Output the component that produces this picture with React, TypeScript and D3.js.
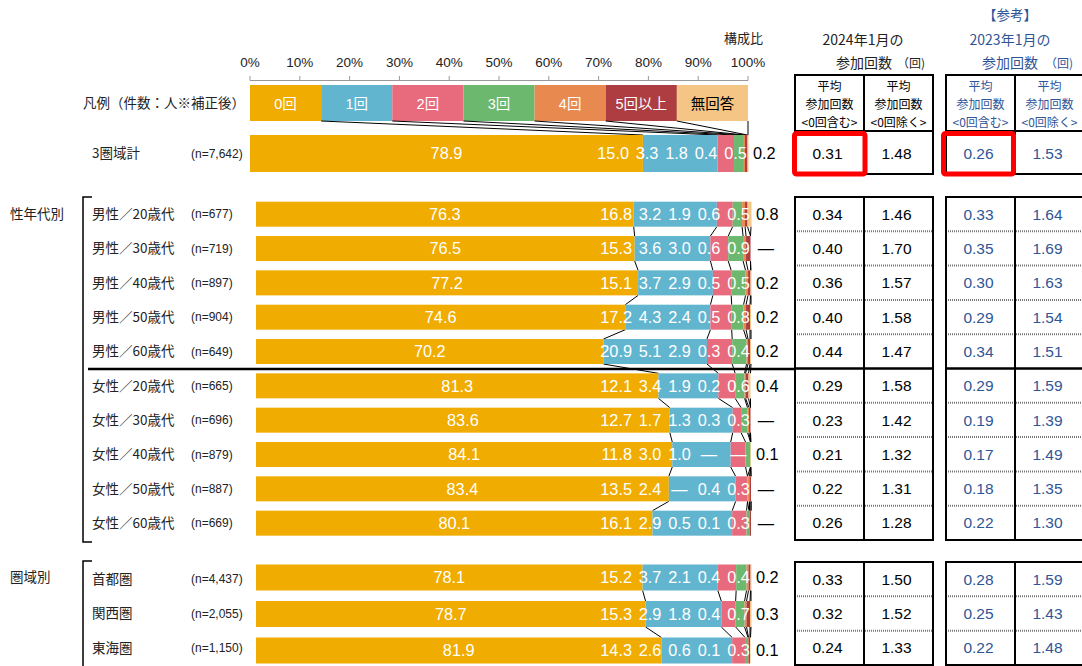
import React from 'react';
import * as d3 from 'd3';

// ---------- data ----------
const categories = [
  '3圏域計',
  '男性／20歳代', '男性／30歳代', '男性／40歳代', '男性／50歳代', '男性／60歳代',
  '女性／20歳代', '女性／30歳代', '女性／40歳代', '女性／50歳代', '女性／60歳代',
  '首都圏', '関西圏', '東海圏',
];
const sampleSizes = [
  '(n=7,642)',
  '(n=677)', '(n=719)', '(n=897)', '(n=904)', '(n=649)',
  '(n=665)', '(n=696)', '(n=879)', '(n=887)', '(n=669)',
  '(n=4,437)', '(n=2,055)', '(n=1,150)',
];
const seriesNames = ['0回', '1回', '2回', '3回', '4回', '5回以上', '無回答'];
const seriesColors = ['#F0AC00', '#62B5CF', '#E86B7D', '#6CB86E', '#E88A50', '#AE3D41', '#F5C586'];

const zeroTimes = [78.9, 76.3, 76.5, 77.2, 74.6, 70.2, 81.3, 83.6, 84.1, 83.4, 80.1, 78.1, 78.7, 81.9];
const oneTime = [15.0, 16.8, 15.3, 15.1, 17.2, 20.9, 12.1, 12.7, 11.8, 13.5, 16.1, 15.2, 15.3, 14.3];
const twoTimes = [3.3, 3.2, 3.6, 3.7, 4.3, 5.1, 3.4, 1.7, 3.0, 2.4, 2.9, 3.7, 2.9, 2.6];
const threeTimes = [1.8, 1.9, 3.0, 2.9, 2.4, 2.9, 1.9, 1.3, 1.0, null, 0.5, 2.1, 1.8, 0.6];
const fourTimes = [0.4, 0.6, 0.6, 0.5, 0.5, 0.3, 0.2, 0.3, null, 0.4, 0.1, 0.4, 0.4, 0.1];
const fivePlus = [0.5, 0.5, 0.9, 0.5, 0.8, 0.4, 0.6, 0.3, null, 0.3, 0.3, 0.4, 0.7, 0.3];
const noAnswer = [0.2, 0.8, null, 0.2, 0.2, 0.2, 0.4, null, 0.1, null, null, 0.2, 0.3, 0.1];
const seriesValues: (number | null)[][] = [zeroTimes, oneTime, twoTimes, threeTimes, fourTimes, fivePlus, noAnswer];

const axisTicks = [0, 10, 20, 30, 40, 50, 60, 70, 80, 90, 100];

const avgIncl2024 = [0.31, 0.34, 0.40, 0.36, 0.40, 0.44, 0.29, 0.23, 0.21, 0.22, 0.26, 0.33, 0.32, 0.24];
const avgExcl2024 = [1.48, 1.46, 1.70, 1.57, 1.58, 1.47, 1.58, 1.42, 1.32, 1.31, 1.28, 1.50, 1.52, 1.33];
const avgIncl2023 = [0.26, 0.33, 0.35, 0.30, 0.29, 0.34, 0.29, 0.19, 0.17, 0.18, 0.22, 0.28, 0.25, 0.22];
const avgExcl2023 = [1.53, 1.64, 1.69, 1.63, 1.54, 1.51, 1.59, 1.39, 1.49, 1.35, 1.30, 1.59, 1.43, 1.48];

// ---------- styles ----------
const JP = "'Noto Sans CJK JP', 'Noto Sans', sans-serif";
const NUM = "'Liberation Sans', Arial, 'Noto Sans CJK JP', sans-serif";
const BLUE = '#2F5597';
const TEXT = '#222';

const W = 1082;
const H = 666;
const STEP = 34.33;

const legendScale = d3.scaleLinear().domain([0, 100]).range([250, 748]);
const barScale = d3.scaleLinear().domain([0, 100]).range([256, 751]);

type Geom = { barTop: number; barH: number; rowTop: number; rowH: number; scale: d3.ScaleLinear<number, number> };
function rowGeom(i: number): Geom {
  if (i === 0) return { barTop: 135, barH: 37, rowTop: 131, rowH: 43, scale: legendScale };
  if (i <= 10) {
    const k = i - 1;
    const rowTop = 197 + k * STEP;
    return { barTop: rowTop + 4.7, barH: 25, rowTop, rowH: STEP, scale: barScale };
  }
  const k = i - 11;
  return { barTop: 564.5 + k * 36.5, barH: 26, rowTop: 562 + k * STEP, rowH: STEP, scale: barScale };
}

let ctx: CanvasRenderingContext2D | null = null;
function textWidth(s: string, font: string) {
  if (!ctx && typeof document !== 'undefined') ctx = document.createElement('canvas').getContext('2d');
  if (ctx) { ctx.font = font; return ctx.measureText(s).width; }
  return s.length * 8.6;
}

const fmt = (v: number | null) => (v == null ? '—' : v.toFixed(1));
const LABEL_FS = 16.3;
const LABEL_FONT = `${LABEL_FS}px 'Liberation Sans'`;

function Bar({ i }: { i: number }) {
  const g = rowGeom(i);
  const vals = seriesValues.map((s) => s[i] ?? 0);
  const cum = [0, ...d3.cumsum(vals)];
  const cy = g.barTop + g.barH / 2;
  const base = cy + LABEL_FS * 0.36;
  const end = g.scale(100);
  // label placement: 0回 centered, 1回..5回以上 packed from right end
  const labelX: number[] = new Array(7).fill(0);
  labelX[0] = (g.scale(cum[0]) + g.scale(cum[1])) / 2;
  let right = end - 1;
  for (let k = 5; k >= 1; k--) {
    const w = Math.max(textWidth(fmt(seriesValues[k][i]), LABEL_FONT), 23);
    const center = (g.scale(cum[k]) + g.scale(cum[k + 1])) / 2;
    const x = Math.min(center, right - w / 2);
    labelX[k] = x;
    right = x - w / 2 - 6.5;
  }
  const na = seriesValues[6][i];
  return (
    <g>
      {vals.map((v, k) => (
        <rect key={k} x={g.scale(cum[k])} y={g.barTop} width={Math.max(0, g.scale(cum[k + 1]) - g.scale(cum[k]))}
          height={g.barH} fill={seriesColors[k]} />
      ))}
      {[0, 1, 2, 3, 4, 5].map((k) => (
        <text key={k} x={labelX[k]} y={base} textAnchor="middle" fontFamily={NUM} fontSize={LABEL_FS} fill="#fff">
          {fmt(seriesValues[k][i])}
        </text>
      ))}
      <text x={na == null ? end + 15 : end + 5} y={base} textAnchor={na == null ? 'middle' : 'start'}
        fontFamily={NUM} fontSize={LABEL_FS} fill="#000">{fmt(na)}</text>
    </g>
  );
}

function seriesLines(a: number, b: number) {
  const ga = rowGeom(a), gb = rowGeom(b);
  const ca = d3.cumsum(seriesValues.map((s) => s[a] ?? 0));
  const cb = d3.cumsum(seriesValues.map((s) => s[b] ?? 0));
  return seriesNames.map((_, k) => (
    <line key={`${a}-${k}`} x1={ga.scale(Math.min(ca[k], 100))} y1={ga.barTop + ga.barH}
      x2={gb.scale(Math.min(cb[k], 100))} y2={gb.barTop} stroke="#000" strokeWidth={1} />
  ));
}

function Table({ x0, color, rows, top, bottom, solidAfter, colA, colB }:
  { x0: number; color: string; rows: number[]; top: number; bottom: number; solidAfter?: number; colA: number[]; colB: number[] }) {
  const xm = x0 + 69, x1 = x0 + 138;
  const n = rows.length;
  const step = (bottom - top) / n;
  return (
    <g>
      {rows.map((r, j) => {
        const cy = top + step * j + step / 2;
        return (
          <g key={r}>
            <text x={(x0 + xm) / 2 - 2} y={cy + 5.6} textAnchor="middle" fontFamily={NUM} fontSize={15.5} fill={color}>{colA[r].toFixed(2)}</text>
            <text x={(xm + x1) / 2 - 2} y={cy + 5.6} textAnchor="middle" fontFamily={NUM} fontSize={15.5} fill={color}>{colB[r].toFixed(2)}</text>
            {j > 0 && (solidAfter === j
              ? <line x1={x0} x2={x1} y1={top + step * j} y2={top + step * j} stroke="#000" strokeWidth={2.5} />
              : <line x1={x0} x2={x1} y1={top + step * j} y2={top + step * j} stroke="#777" strokeWidth={2} strokeDasharray="1 1" />)}
          </g>
        );
      })}
      <line x1={xm} x2={xm} y1={top} y2={bottom} stroke="#000" strokeWidth={2} />
      <rect x={x0} y={top} width={138} height={bottom - top} fill="none" stroke="#000" strokeWidth={2} />
    </g>
  );
}

function HeaderTable({ x0, color, i }: { x0: number; color: string; i: number }) {
  const xm = x0 + 69, x1 = x0 + 138;
  const lines = [['平均', '参加回数', '<0回含む>'], ['平均', '参加回数', '<0回除く>']];
  return (
    <g>
      {lines.map((ls, c) => ls.map((t, j) => (
        <text key={`${c}-${j}`} x={c === 0 ? (x0 + xm) / 2 : (xm + x1) / 2} y={90.5 + j * 18} textAnchor="middle"
          fontFamily={JP} fontSize={12} fill={color}>{t}</text>
      )))}
      <text x={(x0 + xm) / 2 - 2} y={159} textAnchor="middle" fontFamily={NUM} fontSize={15.5} fill={color}>
        {(color === BLUE ? avgIncl2023 : avgIncl2024)[i].toFixed(2)}</text>
      <text x={(xm + x1) / 2 - 2} y={159} textAnchor="middle" fontFamily={NUM} fontSize={15.5} fill={color}>
        {(color === BLUE ? avgExcl2023 : avgExcl2024)[i].toFixed(2)}</text>
      <line x1={x0} x2={x1} y1={131} y2={131} stroke="#000" strokeWidth={2} />
      <line x1={xm} x2={xm} y1={75} y2={174} stroke="#000" strokeWidth={2} />
      <rect x={x0} y={75} width={138} height={99} fill="none" stroke="#000" strokeWidth={2} />
    </g>
  );
}

export default function App() {
  const group1 = d3.range(1, 11);
  const group2 = d3.range(11, 14);
  return (
    <svg width={W} height={H} style={{ position: 'absolute', left: 0, top: 0, background: '#fff' }}>
      {/* axis */}
      <text x={763} y={43} textAnchor="end" fontFamily={JP} fontSize={13} fill={TEXT}>構成比</text>
      {axisTicks.map((t) => (
        <g key={t}>
          <text x={legendScale(t)} y={67} textAnchor="middle" fontFamily={NUM} fontSize={13.5} fill={TEXT}>{t}%</text>
          <line x1={legendScale(t)} x2={legendScale(t)} y1={76} y2={80.5} stroke="#999" strokeWidth={1} />
        </g>
      ))}
      <line x1={legendScale(0)} x2={legendScale(100)} y1={80.5} y2={80.5} stroke="#999" strokeWidth={1} />

      {/* legend */}
      <text x={245} y={108} textAnchor="end" fontFamily={JP} fontSize={13.5} fill={TEXT}>凡例（件数：人※補正後）</text>
      {seriesNames.map((s, k) => {
        const x0 = legendScale((k * 100) / 7), x1 = legendScale(((k + 1) * 100) / 7);
        return (
          <g key={s}>
            <rect x={x0} y={85} width={x1 - x0} height={36} fill={seriesColors[k]} />
            <text x={(x0 + x1) / 2} y={108.5} textAnchor="middle" fontFamily={NUM} fontSize={14.5}
              fill={k === 6 ? '#000' : '#fff'}>{s}</text>
          </g>
        );
      })}
      {/* legend -> total series lines */}
      {seriesNames.map((_, k) => {
        const c = d3.cumsum(seriesValues.map((s) => s[0] ?? 0));
        return <line key={k} x1={legendScale(((k + 1) * 100) / 7)} y1={121} x2={legendScale(Math.min(c[k], 100))} y2={135}
          stroke="#000" strokeWidth={1} />;
      })}

      {/* row labels */}
      {categories.map((c, i) => {
        const g = rowGeom(i);
        const cy = i === 0 ? g.barTop + g.barH / 2 : g.rowTop + g.rowH / 2;
        return (
          <g key={c}>
            <text x={92} y={cy + 4.8} fontFamily={JP} fontSize={13.5} fill={TEXT}>{c}</text>
            <text x={191} y={cy + 4.3} fontFamily={NUM} fontSize={12} fill={TEXT}>{sampleSizes[i]}</text>
          </g>
        );
      })}
      <text x={10} y={219} fontFamily={JP} fontSize={13.5} fill={TEXT}>性年代別</text>
      <text x={10} y={582} fontFamily={JP} fontSize={13.5} fill={TEXT}>圏域別</text>
      <path d="M92,197 H83 V542 H92" fill="none" stroke="#000" strokeWidth={1.5} />
      <path d="M92,561 H83 V670" fill="none" stroke="#000" strokeWidth={1.5} />

      {/* series lines */}
      {group1.slice(0, -1).map((i) => <g key={i}>{seriesLines(i, i + 1)}</g>)}
      {group2.slice(0, -1).map((i) => <g key={i}>{seriesLines(i, i + 1)}</g>)}

      {/* bars */}
      {categories.map((c, i) => <Bar key={c} i={i} />)}

      {/* separator */}
      <line x1={88} x2={795} y1={369} y2={369} stroke="#000" strokeWidth={2.5} />

      {/* table titles */}
      <text x={863} y={45} textAnchor="middle" fontFamily={JP} fontSize={14} fill={TEXT}>2024年1月の</text>
      <text x={836} y={68} fontFamily={JP} fontSize={14} fill={TEXT}>参加回数</text>
      <text x={897} y={68} fontFamily={JP} fontSize={12} fill={TEXT}>（回)</text>
      <text x={1010} y={20} textAnchor="middle" fontFamily={JP} fontSize={13.5} fill={BLUE}>【参考】</text>
      <text x={1010} y={45} textAnchor="middle" fontFamily={JP} fontSize={14} fill={BLUE}>2023年1月の</text>
      <text x={982} y={68} fontFamily={JP} fontSize={14} fill={BLUE}>参加回数</text>
      <text x={1045} y={68} fontFamily={JP} fontSize={12} fill={BLUE}>（回)</text>

      {/* tables */}
      <HeaderTable x0={795} color="#000" i={0} />
      <HeaderTable x0={946} color={BLUE} i={0} />
      <Table x0={795} color="#000" rows={group1} top={197} bottom={540} solidAfter={5} colA={avgIncl2024} colB={avgExcl2024} />
      <Table x0={946} color={BLUE} rows={group1} top={197} bottom={540} solidAfter={5} colA={avgIncl2023} colB={avgExcl2023} />
      <Table x0={795} color="#000" rows={group2} top={562} bottom={665} colA={avgIncl2024} colB={avgExcl2024} />
      <Table x0={946} color={BLUE} rows={group2} top={562} bottom={665} colA={avgIncl2023} colB={avgExcl2023} />

      {/* highlight boxes */}
      <rect x={794.5} y={133.5} width={70.5} height={40.5} rx={2} fill="none" stroke="#FF0000" strokeWidth={5} />
      <rect x={943.5} y={133.5} width={70} height={40.5} rx={2} fill="none" stroke="#FF0000" strokeWidth={5} />
    </svg>
  );
}
